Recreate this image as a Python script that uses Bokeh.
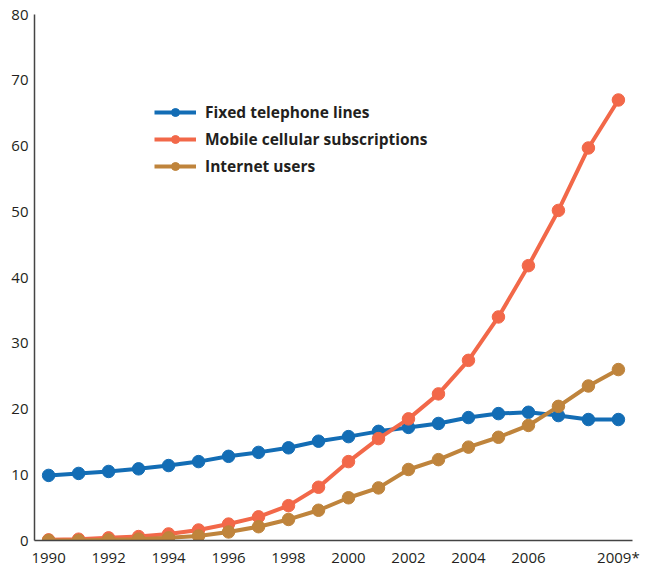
from bokeh.plotting import figure
from bokeh.models import FixedTicker, Range1d, Legend, LegendItem
from bokeh.embed import file_html
from bokeh.resources import INLINE

years = list(range(1990, 2010))
fixed_lines = [9.9, 10.2, 10.5, 10.9, 11.4, 12.0, 12.8, 13.4, 14.1, 15.1,
               15.8, 16.6, 17.2, 17.8, 18.7, 19.3, 19.5, 19.0, 18.4, 18.4]
mobile_subs = [0.1, 0.2, 0.4, 0.6, 1.0, 1.6, 2.5, 3.6, 5.3, 8.1,
               12.0, 15.5, 18.5, 22.3, 27.4, 34.0, 41.8, 50.2, 59.7, 67.0]
internet_users = [0.0, 0.0, 0.1, 0.2, 0.4, 0.7, 1.3, 2.1, 3.2, 4.6,
                  6.5, 8.0, 10.8, 12.3, 14.2, 15.7, 17.5, 20.4, 23.5, 26.0]
series_names = ["Fixed telephone lines", "Mobile cellular subscriptions", "Internet users"]
series_colors = ["#136db5", "#f26849", "#bf843c"]
x_ticks = [1990, 1992, 1994, 1996, 1998, 2000, 2002, 2004, 2006, 2009]
x_tick_labels = {2009: "2009*"}
y_ticks = [0, 10, 20, 30, 40, 50, 60, 70, 80]

FONT = "Open Sans"

p = figure(frame_width=598, frame_height=526, output_backend="svg", toolbar_location=None,
           min_border_left=34, min_border_top=14, min_border_right=14, min_border_bottom=28)
p.x_range = Range1d(1989.53, 2009.47)
p.y_range = Range1d(0, 80)
p.outline_line_color = None
p.grid.visible = False
p.background_fill_color = "white"

items = []
for name, vals, col in zip(series_names, [fixed_lines, mobile_subs, internet_users], series_colors):
    l = p.line(years, vals, line_color=col, line_width=4)
    c = p.scatter(years, vals, size=12.5, fill_color=col, line_color=col)
    items.append(LegendItem(label=name, renderers=[l, c]))

legend = Legend(items=items, location=(120, 363), padding=0, margin=0,
                glyph_width=42, glyph_height=20, label_height=20, label_standoff=9, spacing=5,
                label_text_font=FONT, label_text_font_style="bold",
                label_text_font_size="15.5px", label_text_color="#231f20",
                border_line_color=None, background_fill_alpha=0)
p.add_layout(legend, "center")

for ax in (p.xaxis, p.yaxis):
    ax.axis_line_color = "#444444"
    ax.axis_line_width = 1.5
    ax.major_tick_line_color = None
    ax.minor_tick_line_color = None
    ax.major_tick_out = 0
    ax.major_tick_in = 0
    ax.minor_tick_out = 0
    ax.minor_tick_in = 0
    ax.major_label_text_font = FONT
    ax.major_label_text_font_size = "15px"
    ax.major_label_text_color = "#231f20"

p.xaxis.ticker = FixedTicker(ticks=x_ticks)
p.xaxis.major_label_overrides = x_tick_labels
p.xaxis.major_label_standoff = 6
p.yaxis.ticker = FixedTicker(ticks=y_ticks)
p.yaxis.major_label_standoff = 6

open("out.html", "w").write(file_html(p, INLINE))
